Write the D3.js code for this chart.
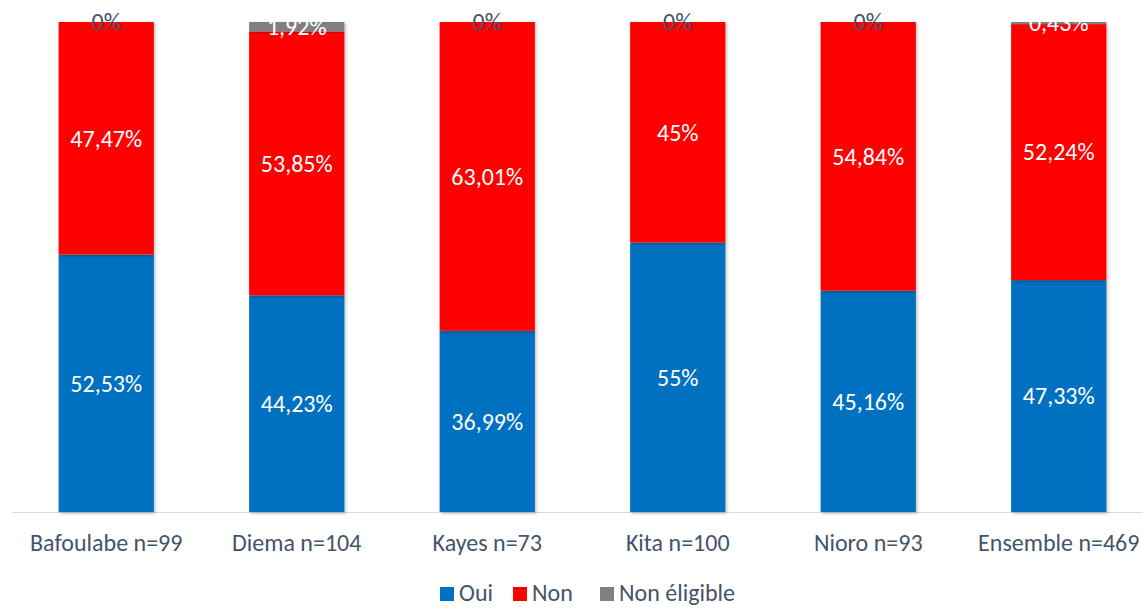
<!DOCTYPE html>
<html>
<head>
<meta charset="utf-8">
<script src="https://cdn.jsdelivr.net/npm/d3@7"></script>
<style>
  body { margin: 0; background: #fff; }
  svg { display: block; font-family: Calibri, Carlito, "Open Sans", sans-serif; }
</style>
</head>
<body>
<div id="chart"></div>
<script>
// categories and series values (percent)
var categories = ["Bafoulabe n=99", "Diema n=104", "Kayes n=73", "Kita n=100", "Nioro n=93", "Ensemble n=469"];
var oui = [52.53, 44.23, 36.99, 55, 45.16, 47.33];
var non = [47.47, 53.85, 63.01, 45, 54.84, 52.24];
var nonEligible = [0, 1.92, 0, 0, 0, 0.43];
var seriesNames = ["Oui", "Non", "Non éligible"];
var colors = ["#0070C0", "#FF0000", "#808080"];

var width = 1143,
    height = 608;

var textColor = "#44546A";

var rows = categories.map(function(c, i) {
    return { cat: c, "Oui": oui[i], "Non": non[i], "Non éligible": nonEligible[i] };
});

var x = d3.scaleBand()
    .domain(categories)
    .range([11, 1154])
    .paddingInner(0.5)
    .paddingOuter(0.25);

var y = d3.scaleLinear()
    .domain([0, 100])
    .range([512, 22]);

var stack = d3.stack().keys(seriesNames);
var layers = stack(rows);

var svg = d3.select("#chart").append("svg")
    .attr("width", width)
    .attr("height", height);

// soft shadow like the office chart
var defs = svg.append("defs");
var f = defs.append("filter").attr("id", "shadow")
    .attr("x", "-10%").attr("y", "-10%").attr("width", "130%").attr("height", "130%");
f.append("feDropShadow")
    .attr("dx", 1.5).attr("dy", 1.5).attr("stdDeviation", 1.5)
    .attr("flood-color", "#000").attr("flood-opacity", 0.25);

// axis line
svg.append("line")
    .attr("x1", 12).attr("x2", 1143)
    .attr("y1", y(0) + 0.5).attr("y2", y(0) + 0.5)
    .attr("stroke", "#D9D9D9")
    .attr("stroke-width", 1);

var g = svg.selectAll("g.layer")
    .data(layers)
    .enter().append("g")
    .attr("class", "layer")
    .attr("fill", function(d, i) { return colors[i]; });

g.selectAll("rect")
    .data(function(d) { return d; })
    .enter().append("rect")
    .attr("x", function(d) { return x(d.data.cat); })
    .attr("width", x.bandwidth())
    .attr("y", function(d) { return y(d[1]); })
    .attr("height", function(d) { return y(d[0]) - y(d[1]); })
    .attr("filter", "url(#shadow)");

var fmt = function(v) { return String(v).replace(".", ","); };

// value labels
layers.forEach(function(layer, li) {
    svg.append("g").selectAll("text")
        .data(layer)
        .enter().append("text")
        .attr("x", function(d) { return x(d.data.cat) + x.bandwidth() / 2; })
        .attr("y", function(d) { return (y(d[0]) + y(d[1])) / 2; })
        .attr("dy", "0.35em")
        .attr("text-anchor", "middle")
        .attr("font-size", 24)
        .attr("fill", function(d) { return (d[1] - d[0]) === 0 ? textColor : "#FFFFFF"; })
        .text(function(d) { return fmt(d.data[layer.key]) + "%"; });
});

// category labels
svg.append("g").selectAll("text")
    .data(categories)
    .enter().append("text")
    .attr("x", function(d) { return x(d) + x.bandwidth() / 2; })
    .attr("y", 551)
    .attr("text-anchor", "middle")
    .attr("font-size", 24)
    .attr("fill", textColor)
    .text(function(d) { return d; });

// legend
var legendX = [440, 513, 600];
var legend = svg.append("g").selectAll("g")
    .data(seriesNames)
    .enter().append("g")
    .attr("transform", function(d, i) { return "translate(" + legendX[i] + ",587)"; });

legend.append("rect")
    .attr("width", 14).attr("height", 14)
    .attr("fill", function(d, i) { return colors[i]; });

legend.append("text")
    .attr("x", 19).attr("y", 14)
    .attr("font-size", 24)
    .attr("fill", textColor)
    .text(function(d) { return d; });
</script>
</body>
</html>
